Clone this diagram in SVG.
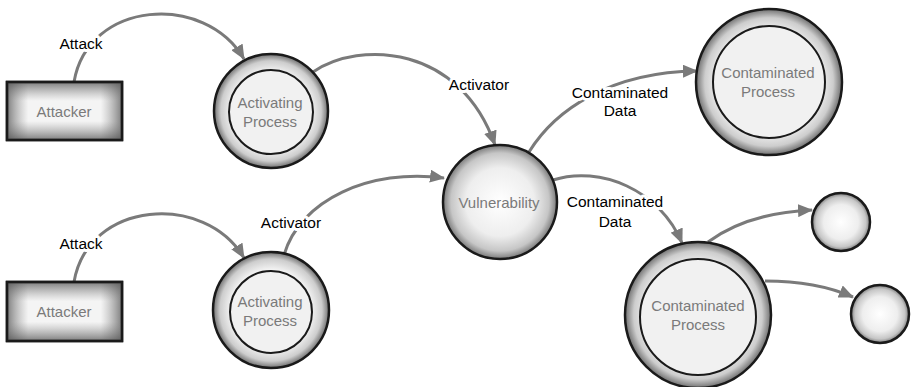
<svg xmlns="http://www.w3.org/2000/svg" width="911" height="387" viewBox="0 0 911 387">
<style>
.edge{fill:none;stroke:#7a7a7a;stroke-width:3;marker-end:url(#arr)}
.lbl{font-family:"Liberation Sans",Arial,sans-serif;font-size:15.5px;fill:#000;text-anchor:middle;stroke:#fff;stroke-width:6px;paint-order:stroke;stroke-linejoin:round}
.nt{font-family:"Liberation Sans",Arial,sans-serif;font-size:15px;fill:#7a7a7a;text-anchor:middle}
.ring{fill:url(#ringG);stroke:#1a1a1a;stroke-width:2.5}
.inner{fill:#f1f1f1;stroke:#1a1a1a;stroke-width:2}
.ball{fill:url(#ballG);stroke:#1a1a1a;stroke-width:2.5}
.box{fill:#f4f4f4;stroke:#1a1a1a;stroke-width:2.5}
</style>
<defs>
<marker id="arr" viewBox="0 0 15 13" refX="14" refY="6.5" markerWidth="15" markerHeight="13" markerUnits="userSpaceOnUse" orient="auto">
<path d="M0,0 L15,6.5 L0,13 Z" fill="#7a7a7a"/>
</marker>
<radialGradient id="ringG" cx="0.5" cy="0.5" r="0.5">
<stop offset="0.68" stop-color="#f6f6f6"/>
<stop offset="0.88" stop-color="#cdcdcd"/>
<stop offset="1" stop-color="#707070"/>
</radialGradient>
<radialGradient id="ballG" cx="0.5" cy="0.5" r="0.5">
<stop offset="0" stop-color="#ffffff"/>
<stop offset="0.6" stop-color="#eeeeee"/>
<stop offset="0.86" stop-color="#c6c6c6"/>
<stop offset="1" stop-color="#7a7a7a"/>
</radialGradient>
<linearGradient id="hG" x1="0" y1="0" x2="1" y2="0">
<stop offset="0" stop-color="#555" stop-opacity="0.7"/>
<stop offset="0.18" stop-color="#888" stop-opacity="0"/>
<stop offset="0.82" stop-color="#888" stop-opacity="0"/>
<stop offset="1" stop-color="#555" stop-opacity="0.7"/>
</linearGradient>
<linearGradient id="vG" x1="0" y1="0" x2="0" y2="1">
<stop offset="0" stop-color="#555" stop-opacity="0.7"/>
<stop offset="0.32" stop-color="#888" stop-opacity="0"/>
<stop offset="0.68" stop-color="#888" stop-opacity="0"/>
<stop offset="1" stop-color="#555" stop-opacity="0.7"/>
</linearGradient>
</defs>

<g id="connectors">
<path class="edge" d="M74,82 C88,0 205,-8 244,59"/>
<path class="edge" d="M74,282 C88,200 205,192 244,258"/>
<path class="edge" d="M313,72 C360,40 460,45 495,145"/>
<path class="edge" d="M284,255 C300,200 370,168 444,178"/>
<path class="edge" d="M529,152 C555,110 610,72 697,71"/>
<path class="edge" d="M553,180 C600,165 660,190 682,243"/>
<path class="edge" d="M708,242 C735,222 770,212 812,210"/>
<path class="edge" d="M765,281 C800,281 830,287 853,297"/>
<text class="lbl" x="81" y="49">Attack</text>
<text class="lbl" x="81" y="249">Attack</text>
<text class="lbl" x="479" y="90">Activator</text>
<text class="lbl" x="291" y="228">Activator</text>
<text class="lbl" x="620" y="98">Contaminated</text>
<text class="lbl" x="620" y="116">Data</text>
<text class="lbl" x="615" y="207">Contaminated</text>
<text class="lbl" x="615" y="227">Data</text>
</g>

<g id="attacker1">
<rect class="box" x="7" y="82" width="115" height="58"/>
<rect x="8" y="83" width="113" height="56" fill="url(#hG)"/>
<rect x="8" y="83" width="113" height="56" fill="url(#vG)"/>
<rect x="7" y="82" width="115" height="58" fill="none" stroke="#1a1a1a" stroke-width="2.5"/>
<text class="nt" x="64" y="117">Attacker</text>
</g>

<g id="attacker2">
<rect class="box" x="7" y="282" width="115" height="59"/>
<rect x="8" y="283" width="113" height="57" fill="url(#hG)"/>
<rect x="8" y="283" width="113" height="57" fill="url(#vG)"/>
<rect x="7" y="282" width="115" height="59" fill="none" stroke="#1a1a1a" stroke-width="2.5"/>
<text class="nt" x="64" y="317">Attacker</text>
</g>

<g id="activating1">
<circle class="ring" cx="271" cy="111" r="57"/>
<circle class="inner" cx="271" cy="112" r="42"/>
<text class="nt" x="270" y="108">Activating</text>
<text class="nt" x="270" y="127">Process</text>
</g>

<g id="activating2">
<circle class="ring" cx="271" cy="310" r="58"/>
<circle class="inner" cx="271" cy="312" r="41"/>
<text class="nt" x="270" y="307">Activating</text>
<text class="nt" x="270" y="326">Process</text>
</g>

<g id="vulnerability">
<circle class="ball" cx="500" cy="202" r="57"/>
<text class="nt" x="499" y="208">Vulnerability</text>
</g>

<g id="contaminated1">
<circle class="ring" cx="769" cy="82" r="73"/>
<circle class="inner" cx="769" cy="82" r="56"/>
<text class="nt" x="768" y="78">Contaminated</text>
<text class="nt" x="768" y="97">Process</text>
</g>

<g id="contaminated2">
<circle class="ring" cx="698" cy="315" r="73"/>
<circle class="inner" cx="698" cy="317" r="58"/>
<text class="nt" x="698" y="311">Contaminated</text>
<text class="nt" x="698" y="330">Process</text>
</g>

<g id="small1">
<circle class="ball" cx="841" cy="222" r="29"/>
</g>

<g id="small2">
<circle class="ball" cx="880" cy="314" r="29"/>
</g>
</svg>
